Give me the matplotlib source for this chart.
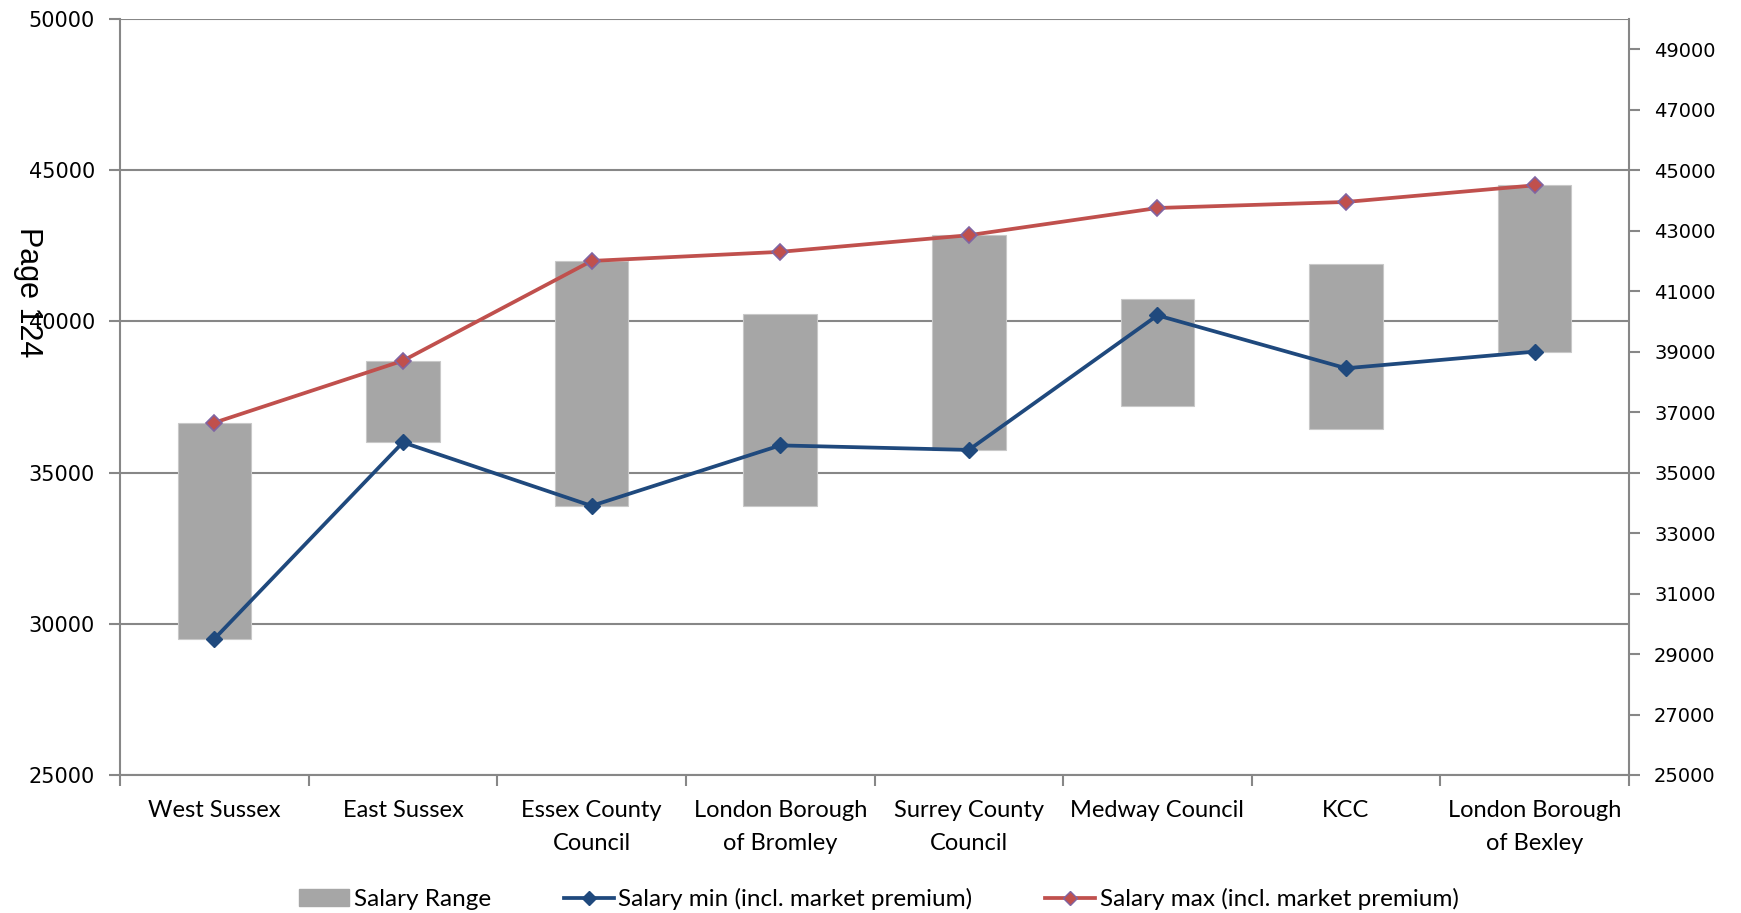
import matplotlib
matplotlib.use("Agg")
import matplotlib.pyplot as plt
import numpy as np
from matplotlib.lines import Line2D
from matplotlib.patches import Patch

categories = ["West Sussex", "East Sussex", "Essex County\nCouncil", "London Borough\nof Bromley",
              "Surrey County\nCouncil", "Medway Council", "KCC", "London Borough\nof Bexley"]
range_low = [29500, 36000, 33900, 33900, 35750, 37200, 36450, 39000]
range_high = [36650, 38700, 42000, 40250, 42850, 40750, 41900, 44500]
salary_min = [29500, 36000, 33900, 35900, 35750, 40200, 38450, 39000]
salary_max = [36650, 38700, 42000, 42300, 42850, 43750, 43950, 44500]
left_ticks = [25000, 30000, 35000, 40000, 45000, 50000]
right_ticks = list(range(25000, 50000, 2000))

GRID = "#878787"
BAR = "#A6A6A6"
BLUE = "#1F497D"
RED = "#C0504D"
PURPLE = "#8064A2"

fig = plt.figure(figsize=(17.41, 9.13), dpi=100)
ax = fig.add_axes([120/1741, 1-775/913, (1629-120)/1741, (775-19)/913])

x = np.arange(len(categories))
heights = np.array(range_high) - np.array(range_low)
ax.bar(x, heights, bottom=range_low, width=0.39, color=BAR, edgecolor="#C8C8C8", linewidth=0.8, zorder=2)
ax.plot(x, salary_min, color=BLUE, lw=2.7, marker="D", ms=8.5, mfc=BLUE, mec=BLUE, zorder=4)
ax.plot(x, salary_max, color=RED, lw=2.7, marker="D", ms=8.5, mfc=RED, mec=PURPLE, mew=1.2, zorder=4)

ax.set_xlim(-0.5, len(categories) - 0.5)
ax.set_ylim(25000, 50000)
ax.set_yticks(left_ticks)
ax.set_yticklabels([str(v) for v in left_ticks], fontsize=15, family="DejaVu Sans")
ax.yaxis.grid(True, color=GRID, lw=1.5, zorder=0)
ax.set_axisbelow(True)
ax.tick_params(axis="y", direction="out", length=8, width=1.5, color=GRID, pad=10)

ax.set_xticks(x)
ax.set_xticklabels(categories, fontsize=17, family="Lato", linespacing=1.68)
ax.set_xticks(np.arange(-0.5, len(categories)), minor=True)
ax.tick_params(axis="x", which="major", length=0, pad=18)
ax.tick_params(axis="x", which="minor", direction="out", length=8, width=1.5, color=GRID)

for s in ["left", "right", "bottom"]:
    ax.spines[s].set_color(GRID)
    ax.spines[s].set_linewidth(1.5)
ax.spines["top"].set_visible(False)

ax2 = ax.twinx()
ax2.set_ylim(25000, 50000)
ax2.set_yticks(right_ticks)
ax2.set_yticklabels([str(v) for v in right_ticks], fontsize=14, family="DejaVu Sans")
ax2.tick_params(axis="y", direction="out", length=8, width=1.5, color=GRID, pad=10)
for s in ["left", "right", "bottom", "top"]:
    ax2.spines[s].set_visible(False)

handles = [
    Patch(facecolor=BAR, edgecolor=BAR),
    Line2D([], [], color=BLUE, lw=2.7, marker="D", ms=7, mfc=BLUE, mec=BLUE),
    Line2D([], [], color=RED, lw=2.7, marker="D", ms=7, mfc=RED, mec=PURPLE),
]
labels = ["Salary Range", "Salary min (incl. market premium)", "Salary max (incl. market premium)"]
fig.legend(handles, labels, loc="center", bbox_to_anchor=(879/1741, 1-899/913), ncol=3, frameon=False,
           prop={"family": "Lato", "size": 17.5}, handlelength=2.05, handletextpad=0.2, columnspacing=3.0)

fig.text(28/1741, 1-292/913, "Page 124", rotation=270, ha="center", va="center",
         fontsize=22, family="Liberation Sans")

fig.savefig("out.png", dpi=100)
